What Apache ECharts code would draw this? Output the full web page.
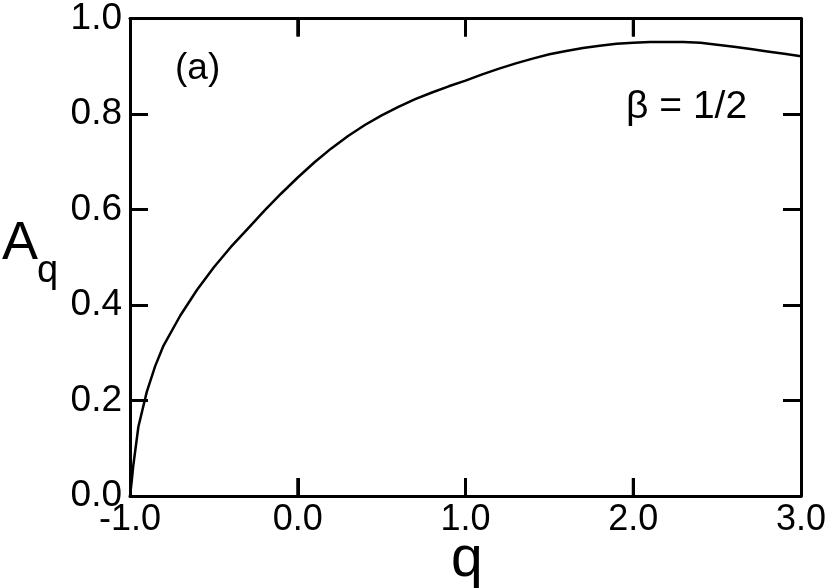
<!DOCTYPE html>
<html><head><meta charset="utf-8">
<script src="https://cdn.jsdelivr.net/npm/echarts@6/dist/echarts.min.js"></script>
<style>html,body{margin:0;padding:0;background:#fff}#c{width:830px;height:588px}</style>
</head><body><div id="c"></div>
<script>
var qValues = [-1.0,-0.99,-0.98,-0.95,-0.9,-0.85,-0.8,-0.7,-0.6,-0.5,-0.4,-0.3,-0.2,-0.1,0.0,0.1,0.2,0.3,0.4,0.5,0.6,0.7,0.8,0.9,1.0,1.1,1.2,1.3,1.4,1.5,1.6,1.7,1.8,1.9,2.0,2.1,2.2,2.3,2.4,2.5,2.6,2.7,2.8,2.9,3.0];
var aValues = [0.0,0.03,0.065,0.145,0.218,0.272,0.315,0.378,0.432,0.479,0.521,0.559,0.597,0.633,0.667,0.699,0.728,0.754,0.777,0.797,0.815,0.831,0.845,0.858,0.870,0.883,0.895,0.906,0.916,0.925,0.932,0.938,0.943,0.947,0.949,0.951,0.951,0.951,0.949,0.945,0.941,0.936,0.931,0.926,0.921];
var xTicks = [-1, 0, 1, 2, 3];
var yTicks = [0, 0.2, 0.4, 0.6, 0.8, 1.0];

var chart = echarts.init(document.getElementById('c'));
var font = 'Liberation Sans';
var TICK_LEN = 18;
function axLine() { return {show: true, onZero: false, lineStyle: {color: '#000', width: 3}}; }
function axTick() { return {show: true, inside: true, length: TICK_LEN, lineStyle: {color: '#000', width: 3}}; }
var data = qValues.map(function (q, i) { return [q, aValues[i]]; });
var yMin = yTicks[0], yMax = yTicks[yTicks.length - 1];
var innerXTicks = xTicks.slice(1, -1).map(function (v) { return [v, (yMin + yMax) / 2]; });

chart.setOption({
  animation: false,
  backgroundColor: '#fff',
  grid: {left: 130, right: 29, top: 16, bottom: 92},
  xAxis: [{
    type: 'value', position: 'bottom', min: xTicks[0], max: xTicks[xTicks.length - 1], interval: 1,
    axisLine: axLine(), axisTick: axTick(), splitLine: {show: false},
    axisLabel: {color: '#000', fontSize: 36, fontFamily: font, margin: 6,
      formatter: function (v) { return v.toFixed(1); }}
  }, {
    type: 'value', position: 'top', min: xTicks[0], max: xTicks[xTicks.length - 1], interval: 1,
    axisLine: axLine(), axisTick: axTick(), splitLine: {show: false}, axisLabel: {show: false}
  }],
  yAxis: [{
    type: 'value', position: 'left', min: yMin, max: yMax, interval: 0.2,
    axisLine: axLine(), axisTick: axTick(), splitLine: {show: false},
    axisLabel: {color: '#000', fontSize: 37, fontFamily: font, margin: 8,
      formatter: function (v) { return v.toFixed(1); }}
  }, {
    type: 'value', position: 'right', min: yMin, max: yMax, interval: 0.2,
    axisLine: axLine(), axisTick: axTick(), splitLine: {show: false}, axisLabel: {show: false}
  }],
  series: [{
    type: 'line', data: data, showSymbol: false, smooth: false,
    xAxisIndex: 0, yAxisIndex: 0,
    lineStyle: {color: '#000', width: 2.5}
  }, {
    type: 'custom', xAxisIndex: 0, yAxisIndex: 0, clip: false, silent: true, z: 10,
    encode: {x: 0, y: 1},
    data: innerXTicks,
    renderItem: function (params, api) {
      var b = api.coord([api.value(0), yMin]);
      var t = api.coord([api.value(0), yMax]);
      var st = {stroke: '#000', lineWidth: 3};
      return {type: 'group', children: [
        {type: 'line', shape: {x1: b[0], y1: b[1], x2: b[0], y2: b[1] - TICK_LEN}, style: st},
        {type: 'line', shape: {x1: t[0], y1: t[1], x2: t[0], y2: t[1] + TICK_LEN}, style: st}
      ]};
    }
  }],
  graphic: [
    {type: 'text', left: 175, top: 50, style: {text: '(a)', fontSize: 37, fontFamily: font, fill: '#000'}},
    {type: 'text', left: 626, top: 88, style: {text: 'β = 1/2', fontSize: 39, fontFamily: font, fill: '#000'}},
    {type: 'text', left: 451, top: 532, style: {text: 'q', fontSize: 57, fontFamily: font, fill: '#000'}},
    {type: 'text', left: 2, top: 217, style: {text: 'A', fontSize: 54, fontFamily: font, fill: '#000'}},
    {type: 'text', left: 37, top: 253, style: {text: 'q', fontSize: 38, fontFamily: font, fill: '#000'}}
  ]
});
</script>
</body></html>
